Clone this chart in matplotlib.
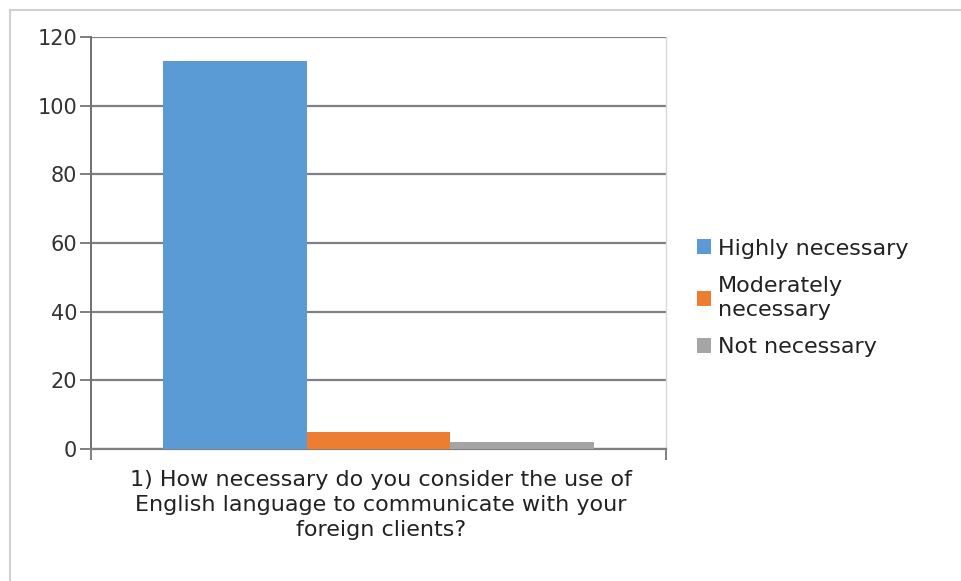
import matplotlib
matplotlib.use("Agg")
import matplotlib.pyplot as plt
from matplotlib.patches import Rectangle, Patch

# Survey answers for question 1
categories = ["Highly necessary", "Moderately\nnecessary", "Not necessary"]
counts = [113, 5, 2]
colors = ["#5b9bd5", "#ed7d31", "#a5a5a5"]
y_ticks = [0, 20, 40, 60, 80, 100, 120]
question = ("1) How necessary do you consider the use of\n"
            "English language to communicate with your\n"
            "foreign clients?")

plt.rcParams["font.family"] = "DejaVu Sans"

fig = plt.figure(figsize=(9.61, 5.81), dpi=100)
fig.patch.set_facecolor("white")

# light frame around the whole chart area
fig.patches.append(Rectangle((10 / 961, -0.01), 1.0, 1 - 10 / 581 + 0.01,
                             transform=fig.transFigure, fill=False,
                             edgecolor="#d0d0d0", linewidth=1.5))

ax = fig.add_axes([91 / 961, 1 - 449 / 581, 575 / 961, 412 / 581])

# bars: three series side by side within one category group
bar_w = 0.25
x0 = 0.125
for i, (lab, v, c) in enumerate(zip(categories, counts, colors)):
    ax.bar(x0 + bar_w * (i + 0.5), v, width=bar_w, color=c, label=lab,
           zorder=3, linewidth=0)

ax.set_xlim(0, 1)
ax.set_ylim(0, 120)
ax.set_yticks(y_ticks)
ax.set_yticklabels([str(t) for t in y_ticks])
ax.set_xticks([0, 1])
ax.set_xticklabels(["", ""])

ax.yaxis.grid(True, color="#808080", linewidth=1.6, zorder=1)
ax.set_axisbelow(True)

ax.spines["top"].set_visible(False)
ax.spines["right"].set_color("#d9d9d9")
ax.spines["right"].set_linewidth(1.0)
ax.spines["left"].set_color("#707070")
ax.spines["left"].set_linewidth(1.4)
ax.spines["bottom"].set_color("#808080")
ax.spines["bottom"].set_linewidth(1.6)

ax.tick_params(axis="y", length=8, width=1.4, color="#808080",
               labelsize=15, labelcolor="#333333", pad=2)
ax.tick_params(axis="x", length=8, width=1.4, color="#808080")

fig.text(381 / 961, 1 - 470 / 581, question, ha="center", va="top",
         fontsize=16, color="#222222", linespacing=1.32)

handles = [Patch(facecolor=c, edgecolor="none") for c in colors]
fig.legend(handles, categories, loc="center left",
           bbox_to_anchor=(681 / 961, 1 - 298 / 581), frameon=False,
           fontsize=16, handlelength=0.65, handleheight=0.65,
           handletextpad=0.3, labelspacing=0.8, labelcolor="#222222",
           borderpad=0.2)

fig.savefig("out.png", dpi=100, facecolor="white")
